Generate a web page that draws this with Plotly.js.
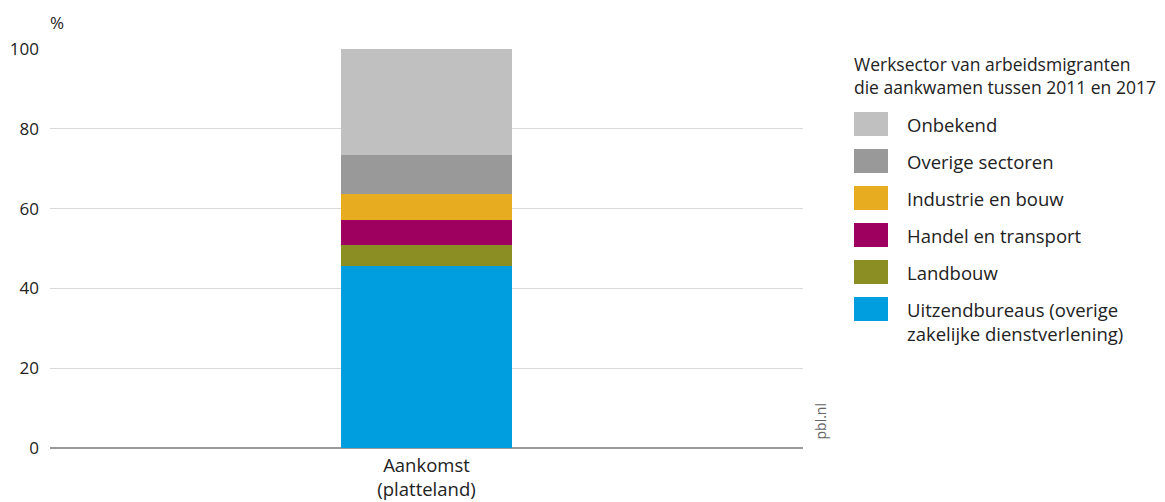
<!DOCTYPE html>
<html>
<head>
<meta charset="utf-8">
<script src="https://cdn.plot.ly/plotly-3.0.1.min.js"></script>
<style>html,body{margin:0;padding:0;background:#fff;}#chart{width:1165px;height:502px;}</style>
</head>
<body>
<div id="chart"></div>
<script>
var categories = ["Aankomst<br>(platteland)"];
var sectors = ["Uitzendbureaus (overige<br>zakelijke dienstverlening)", "Landbouw", "Handel en transport", "Industrie en bouw", "Overige sectoren", "Onbekend"];
var values = [45.7, 5.1, 6.4, 6.5, 9.7, 26.6];
var colors = ["#009ddf", "#8b8f23", "#9d005f", "#e7ac1f", "#999999", "#c0c0c0"];
var yTicks = [0, 20, 40, 60, 80, 100];
var legendTitle = "Werksector van arbeidsmigranten<br>die aankwamen tussen 2011 en 2017";

var FONT = "Open Sans, Lato, sans-serif";
var traces = sectors.map(function (s, i) {
  return {
    type: "bar",
    name: s,
    x: categories,
    y: [values[i]],
    marker: { color: colors[i], line: { width: 0 } },
    width: 0.227,
    hoverinfo: "name+y",
    showlegend: false
  };
});

// custom legend (top item = last sector)
var shapes = [];
var annotations = [];
var legTopY = 124;   // px centre of first row
var rowH = 37;
var H = 502, W = 1165;
var order = sectors.map(function (_, i) { return i; }).reverse();
order.forEach(function (idx, r) {
  var cy = legTopY + r * rowH;
  shapes.push({
    type: "rect", xref: "paper", yref: "paper", layer: "above",
    x0: (854 - 50) / 753, x1: (888 - 50) / 753,
    y0: (448 - (cy + 12)) / 399, y1: (448 - (cy - 12)) / 399,
    fillcolor: colors[idx], line: { width: 0 }
  });
  annotations.push({
    xref: "paper", yref: "paper", showarrow: false,
    x: (905 - 50) / 753, xanchor: "left",
    y: (448 - (cy - 14)) / 399, yanchor: "top",
    align: "left",
    text: sectors[idx],
    font: { family: FONT, size: 18.5, color: "#222" }
  });
});
annotations.push({
  xref: "paper", yref: "paper", showarrow: false,
  x: (852 - 50) / 753, xanchor: "left",
  y: (448 - 50) / 399, yanchor: "top", align: "left",
  text: legendTitle,
  font: { family: FONT, size: 17.5, color: "#222" }
});
annotations.push({
  xref: "paper", yref: "paper", showarrow: false,
  x: 0, xanchor: "left", xshift: -2, y: 1, yanchor: "bottom", yshift: 13,
  text: "%", font: { family: FONT, size: 17, color: "#222" }
});
annotations.push({
  xref: "paper", yref: "paper", showarrow: false,
  x: 1, xanchor: "left", xshift: 5, y: 0, yanchor: "bottom", yshift: 6,
  textangle: -90, text: "pbl.nl",
  font: { family: FONT, size: 14, color: "#666" }
});

var layout = {
  width: W, height: H,
  margin: { l: 50, r: 362, t: 49, b: 54 },
  paper_bgcolor: "#fff", plot_bgcolor: "#fff",
  barmode: "stack",
  showlegend: false,
  font: { family: FONT, size: 16, color: "#222" },
  xaxis: {
    type: "category", range: [-0.5, 0.5],
    showgrid: false, showline: false, zeroline: false,
    ticks: "", ticklabelstandoff: 4,
    tickfont: { family: FONT, size: 18.5, color: "#222" },
    fixedrange: true
  },
  yaxis: {
    range: [0, 100], tickvals: yTicks, ticktext: yTicks.map(String),
    showgrid: true, gridcolor: "#d9d9d9", gridwidth: 1.3,
    zeroline: true, zerolinecolor: "#999", zerolinewidth: 1.3,
    showline: false, ticks: "", ticklabelstandoff: 10,
    tickfont: { family: FONT, size: 17, color: "#222" },
    fixedrange: true
  },
  shapes: shapes,
  annotations: annotations
};

Plotly.newPlot("chart", traces, layout, { displayModeBar: false, staticPlot: true });
</script>
</body>
</html>
